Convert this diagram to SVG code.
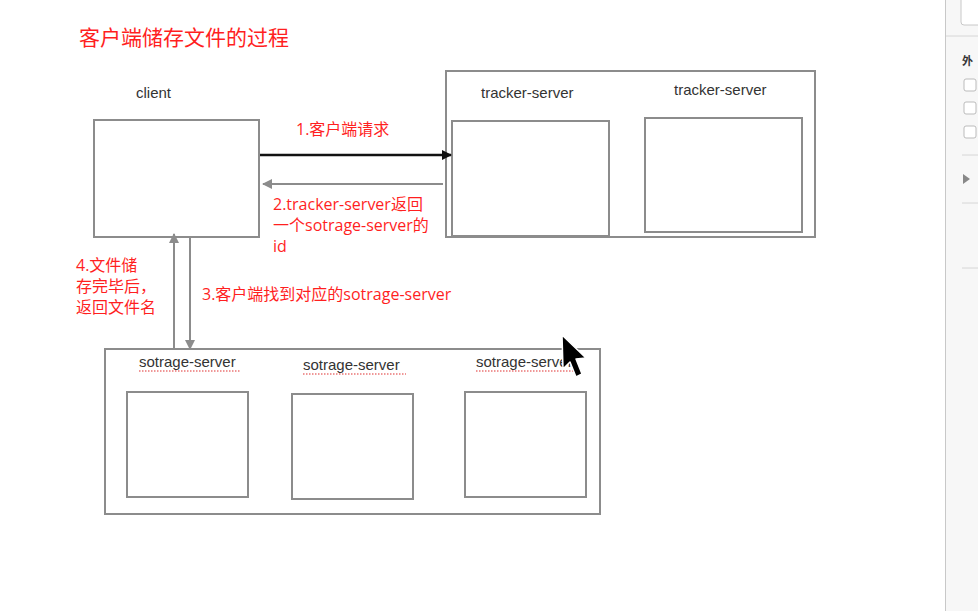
<svg xmlns="http://www.w3.org/2000/svg" width="978" height="611" viewBox="0 0 978 611">
<style>
.box{fill:#fff;stroke:#8c8c8c;stroke-width:2}
.lbl{font-family:"Liberation Sans",Arial,sans-serif;font-size:15px;fill:#333}
.red{font-family:"Open Sans","Noto Sans CJK SC",sans-serif;font-size:16px;fill:#ff1f1f}
.sq{stroke:#e03030;stroke-width:1.2;stroke-dasharray:1.5 1.5;fill:none}
.side{fill:none;stroke:#d6d6d6;stroke-width:1}
</style>
<defs>
<marker id="ab" viewBox="0 0 10 10" refX="9" refY="5" markerWidth="4" markerHeight="4" orient="auto"><path d="M0,0 L10,5 L0,10 z" fill="#111"/></marker>
<marker id="ag" viewBox="0 0 10 10" refX="9" refY="5" markerWidth="5" markerHeight="5" orient="auto"><path d="M0,0 L10,5 L0,10 z" fill="#8c8c8c"/></marker>
</defs>
<rect width="978" height="611" fill="#fff"/>
<text x="79" y="45" font-family="'Noto Sans CJK SC',sans-serif" font-size="21" fill="#ff1f1f">客户端储存文件的过程</text>

<g id="client">
<text class="lbl" x="136" y="98">client</text>
<rect class="box" x="94" y="120" width="165" height="117"/>
</g>

<g id="tracker-group">
<rect class="box" x="446" y="71" width="369" height="166"/>
<g id="tracker1">
<text class="lbl" x="481" y="98">tracker-server</text>
<rect class="box" x="452" y="121" width="157" height="115"/>
</g>
<g id="tracker2">
<text class="lbl" x="674" y="95">tracker-server</text>
<rect class="box" x="645" y="118" width="157" height="114"/>
</g>
</g>

<g id="storage-group">
<rect class="box" x="105" y="349" width="495" height="165"/>
<g id="storage1">
<text class="lbl" x="139" y="367">sotrage-server</text>
<path class="sq" d="M139,371 H241"/>
<rect class="box" x="127" y="392" width="121" height="105"/>
</g>
<g id="storage2">
<text class="lbl" x="303" y="370">sotrage-server</text>
<path class="sq" d="M303,374 H406"/>
<rect class="box" x="292" y="394" width="121" height="105"/>
</g>
<g id="storage3">
<text class="lbl" x="476" y="367">sotrage-server</text>
<path class="sq" d="M476,371 H578"/>
<rect class="box" x="465" y="392" width="121" height="105"/>
</g>
</g>

<g id="connectors">
<line x1="260" y1="155" x2="451" y2="155" stroke="#111" stroke-width="2.5" marker-end="url(#ab)"/>
<line x1="443" y1="184" x2="263" y2="184" stroke="#8c8c8c" stroke-width="2" marker-end="url(#ag)"/>
<line x1="174" y1="350" x2="174" y2="234" stroke="#8c8c8c" stroke-width="2" marker-end="url(#ag)"/>
<line x1="190" y1="237" x2="190" y2="349" stroke="#8c8c8c" stroke-width="2" marker-end="url(#ag)"/>
</g>

<g id="labels">
<text class="red" x="296" y="135">1.客户端请求</text>
<text class="red" x="273" y="210">2.tracker-server返回</text>
<text class="red" x="273" y="231">一个sotrage-server的</text>
<text class="red" x="273" y="252">id</text>
<text class="red" x="76" y="271">4.文件储</text>
<text class="red" x="76" y="292">存完毕后，</text>
<text class="red" x="76" y="313">返回文件名</text>
<text class="red" x="202" y="300">3.客户端找到对应的sotrage-server</text>
</g>

<g id="sidebar">
<rect x="945" y="0" width="33" height="611" fill="#f7f7f7"/>
<line x1="945.5" y1="0" x2="945.5" y2="611" stroke="#c8c8c8"/>
<rect x="961" y="-4" width="30" height="29" rx="3" fill="#fff" stroke="#c8c8c8"/>
<line class="side" x1="946" y1="36" x2="978" y2="36"/>
<text x="962" y="65" font-family="'Noto Sans CJK SC',sans-serif" font-size="11" font-weight="bold" fill="#333">外</text>
<rect x="964" y="79" width="12" height="12" rx="2" fill="#fff" stroke="#bbb"/>
<rect x="964" y="102" width="12" height="12" rx="2" fill="#fff" stroke="#bbb"/>
<rect x="964" y="126" width="12" height="12" rx="2" fill="#fff" stroke="#bbb"/>
<line class="side" x1="962" y1="155" x2="978" y2="155"/>
<path d="M963,174 L970,179 L963,184 z" fill="#888"/>
<line class="side" x1="962" y1="203" x2="978" y2="203"/>
<line class="side" x1="962" y1="268" x2="978" y2="268"/>
</g>

<g id="cursor">
<path d="M562,335 L563,369 L570,362 L576,377 L582,374 L576,359 L586,358 Z" fill="#000" stroke="#fff" stroke-width="1.5" stroke-linejoin="round"/>
</g>
</svg>
